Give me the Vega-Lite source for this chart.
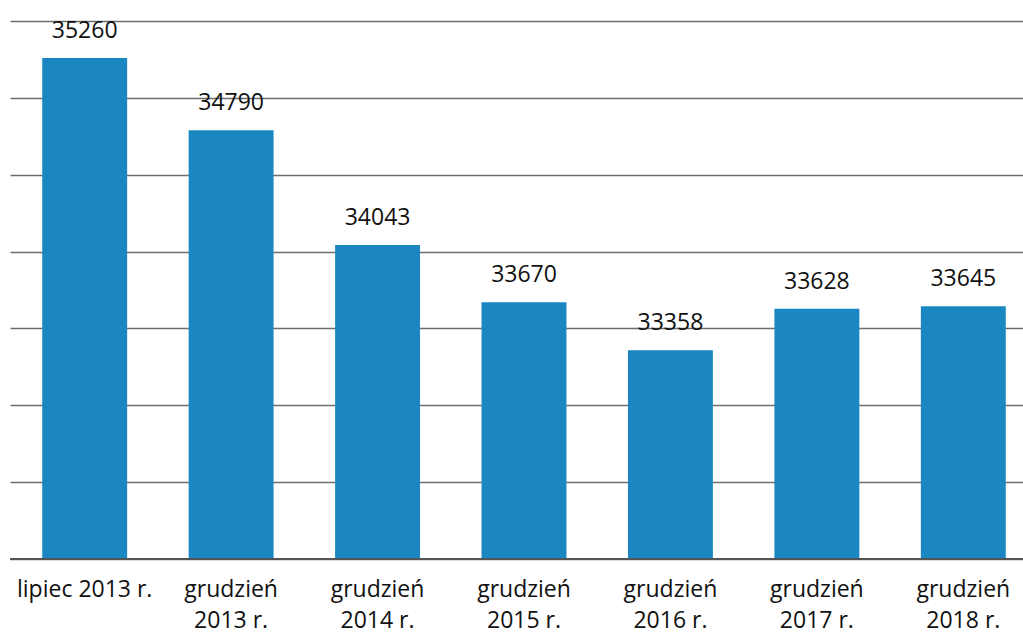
{
  "$schema": "https://vega.github.io/schema/vega-lite/v6.json",
  "width": 1028,
  "height": 538,
  "autosize": {"type": "none"},
  "padding": {"left": 10, "top": 21, "right": 0, "bottom": 76},
  "background": "white",
  "config": {"view": {"stroke": null}},
  "data": {
    "values": [
      {"okres": "lipiec 2013 r.", "wartosc": 35260},
      {"okres": "grudzień|2013 r.", "wartosc": 34790},
      {"okres": "grudzień|2014 r.", "wartosc": 34043},
      {"okres": "grudzień|2015 r.", "wartosc": 33670},
      {"okres": "grudzień|2016 r.", "wartosc": 33358},
      {"okres": "grudzień|2017 r.", "wartosc": 33628},
      {"okres": "grudzień|2018 r.", "wartosc": 33645}
    ]
  },
  "encoding": {
    "x": {
      "field": "okres",
      "type": "nominal",
      "sort": null,
      "scale": {"paddingInner": 0.42, "paddingOuter": 0.22},
      "axis": {
        "title": null,
        "labelAngle": 0,
        "labelExpr": "split(datum.label, '|')",
        "labelFont": "Open Sans",
        "labelFontSize": 23,
        "labelColor": "#111",
        "labelLineHeight": 31,
        "labelPadding": 19,
        "domain": false,
        "ticks": false
      }
    },
    "y": {
      "field": "wartosc",
      "type": "quantitative",
      "scale": {"domain": [32000, 35500], "nice": false, "zero": false},
      "axis": {
        "title": null,
        "labels": false,
        "ticks": false,
        "domain": false,
        "values": [32000, 32500, 33000, 33500, 34000, 34500, 35000, 35500],
        "grid": true,
        "gridColor": "#6e6e6e",
        "gridWidth": 1.5
      }
    }
  },
  "layer": [
    {"mark": {"type": "bar", "color": "#1a87c2", "clip": true}},
    {
      "mark": {"type": "rule", "color": "#555555", "strokeWidth": 1.5},
      "encoding": {"y": {"datum": 32000}, "x": {"value": 0}, "x2": {"value": 1028}}
    },
    {
      "mark": {"type": "text", "baseline": "bottom", "dy": -15, "font": "Open Sans", "fontSize": 23, "color": "#111"},
      "encoding": {"text": {"field": "wartosc", "type": "quantitative", "format": "d"}}
    }
  ]
}
